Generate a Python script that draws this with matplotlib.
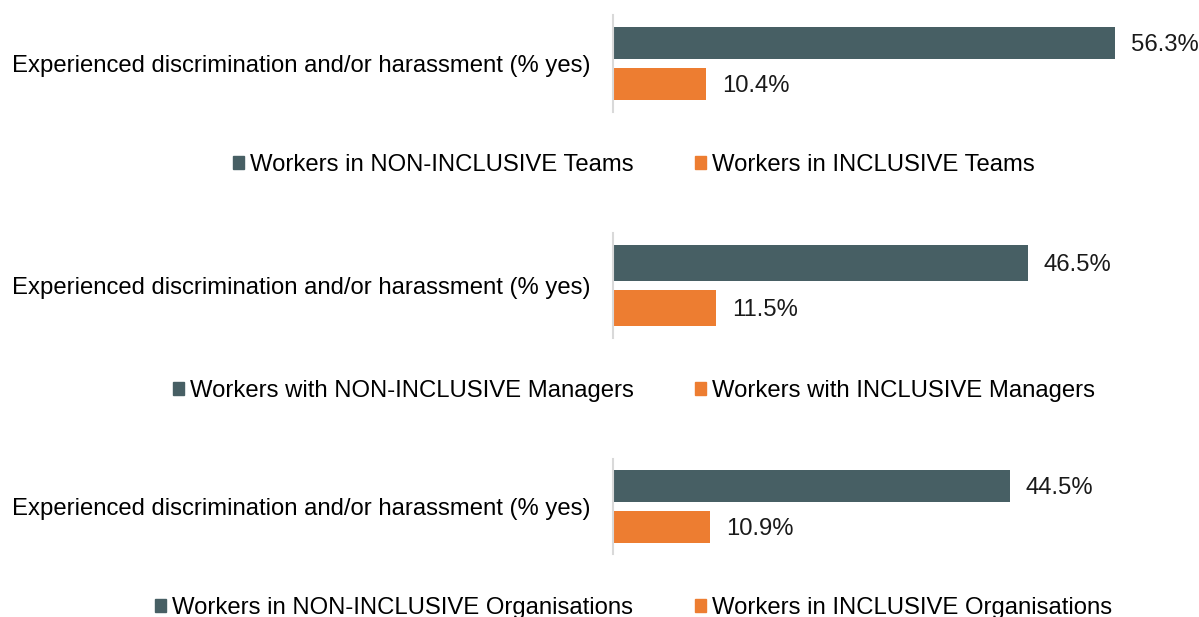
import matplotlib.pyplot as plt
from matplotlib.patches import Patch

plt.rcParams['font.family'] = ['Liberation Sans', 'DejaVu Sans']

category = "Experienced discrimination and/or harassment (% yes)"
non_inclusive = [56.3, 46.5, 44.5]
inclusive = [10.4, 11.5, 10.9]
legend_non = ["Workers in NON-INCLUSIVE Teams",
              "Workers with NON-INCLUSIVE Managers",
              "Workers in NON-INCLUSIVE Organisations"]
legend_inc = ["Workers in INCLUSIVE Teams",
              "Workers with INCLUSIVE Managers",
              "Workers in INCLUSIVE Organisations"]

dark = '#475F64'
orange = '#ED7D31'
fs = 17.2

W, H = 1199, 617
fig = plt.figure(figsize=(W / 100, H / 100), dpi=100)

# pixel layout of each panel: (top of axis line, bottom of axis line, legend y)
panels = [(15, 112, 165), (233, 338, 391), (459, 554, 608)]
x0 = 613
px_per_unit = 8.92
xmax = 65

for i, (top, bot, leg_y) in enumerate(panels):
    ax = fig.add_axes([x0 / W, 1 - bot / H, xmax * px_per_unit / W, (bot - top) / H])
    ax.barh([0], [non_inclusive[i]], height=0.8, color=dark)
    ax.barh([1], [inclusive[i]], height=0.8, color=orange)
    ax.set_xlim(0, xmax)
    ax.set_ylim(1.68, -0.68)
    ax.set_xticks([])
    ax.set_yticks([0.5])
    ax.set_yticklabels([category], fontsize=fs)
    ax.tick_params(axis='y', length=0, pad=16.5)
    for s in ['top', 'right', 'bottom']:
        ax.spines[s].set_visible(False)
    ax.spines['left'].set_color('#D9D9D9')
    ax.spines['left'].set_linewidth(1.5)
    for yy, v in [(0, non_inclusive[i]), (1, inclusive[i])]:
        ax.text(v + 1.8, yy + 0.05, f"{v:.1f}%", va='center', ha='left', fontsize=fs, color='#1a1a1a')

    handles = [Patch(color=dark, label=legend_non[i]), Patch(color=orange, label=legend_inc[i])]
    fig.legend(handles=handles, loc='center', bbox_to_anchor=(634 / W, 1 - leg_y / H),
               ncol=2, frameon=False, fontsize=fs, handlelength=0.46, handleheight=0.46,
               handletextpad=0.25, columnspacing=2.6, borderpad=0)

fig.savefig('out.png', dpi=100)
